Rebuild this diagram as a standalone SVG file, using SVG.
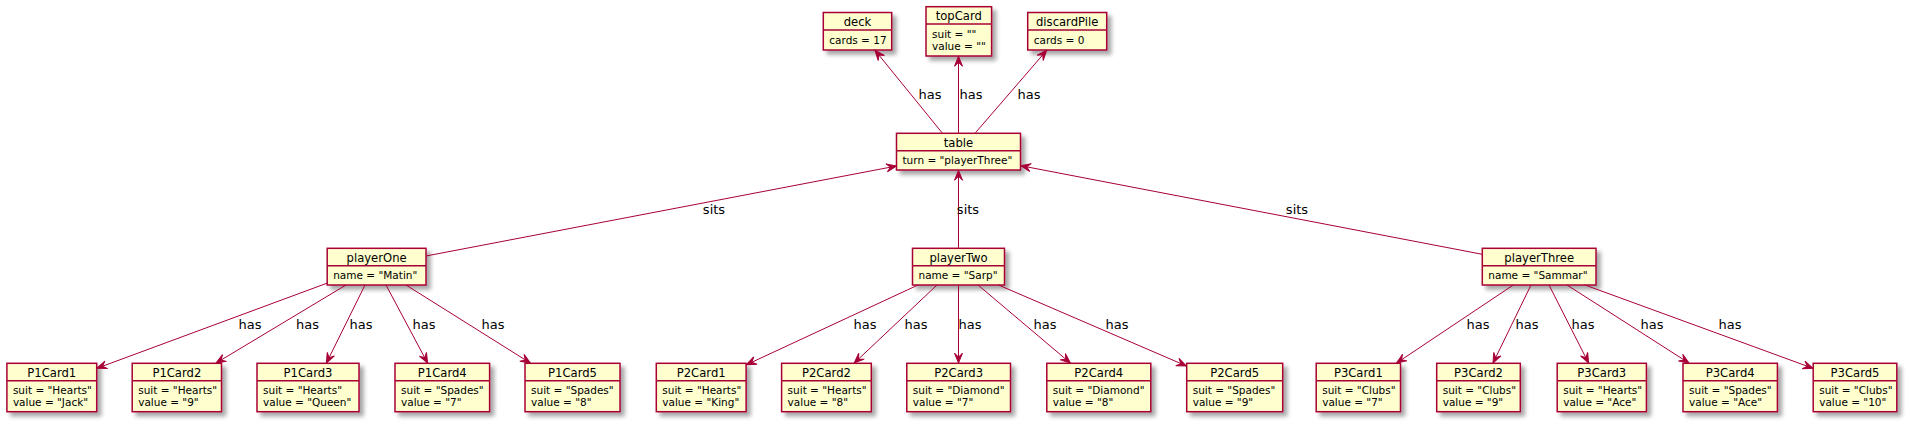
<svg xmlns="http://www.w3.org/2000/svg" width="1910" height="425" viewBox="0 0 1910 425">
<style>
.box{fill:#FEFECE;stroke:#A80036;stroke-width:1.5;filter:url(#sh)}
.sep{stroke:#A80036;stroke-width:1.5}
.nm{font-family:"DejaVu Sans",sans-serif;font-size:11.6px;text-anchor:middle;fill:#000}
.at{font-family:"DejaVu Sans",sans-serif;font-size:10.5px;fill:#000}
.lb{font-family:"DejaVu Sans",sans-serif;font-size:13px;text-anchor:middle;fill:#000}
.ln{stroke:#A80036;stroke-width:1;fill:none;marker-end:url(#ar)}
</style>
<defs>
<filter id="sh" x="-10%" y="-10%" width="130%" height="150%">
<feGaussianBlur in="SourceAlpha" stdDeviation="2" result="b"/>
<feOffset in="b" dx="4" dy="4" result="o"/>
<feComponentTransfer in="o" result="o2"><feFuncA type="linear" slope="0.35"/></feComponentTransfer>
<feMerge><feMergeNode in="o2"/><feMergeNode in="SourceGraphic"/></feMerge>
</filter>
<marker id="ar" viewBox="-11 -5 12 10" refX="0" refY="0" markerWidth="12" markerHeight="10" markerUnits="userSpaceOnUse" orient="auto">
<path d="M0,0 L-10,-4 L-6,0 L-10,4 Z" fill="#A80036" stroke="#A80036" stroke-width="1"/>
</marker>
</defs>
<rect width="1910" height="425" fill="#FFFFFF"/>

<g id="deck"><rect class="box" x="823.3" y="12.5" width="68.4" height="37.5"/><line class="sep" x1="823.3" y1="29.9" x2="891.7" y2="29.9"/><text class="nm" x="857.5" y="25.7">deck</text><text class="at" x="829.3" y="43.5">cards = 17</text></g>
<g id="topCard"><rect class="box" x="926" y="6.7" width="65.6" height="49.3"/><line class="sep" x1="926" y1="24.1" x2="991.6" y2="24.1"/><text class="nm" x="958.8" y="19.9">topCard</text><text class="at" x="932" y="37.7">suit = ""</text><text class="at" x="932" y="49.7">value = ""</text></g>
<g id="discardPile"><rect class="box" x="1027.7" y="12.5" width="79" height="37.5"/><line class="sep" x1="1027.7" y1="29.9" x2="1106.7" y2="29.9"/><text class="nm" x="1067.2" y="25.7">discardPile</text><text class="at" x="1033.7" y="43.5">cards = 0</text></g>
<g id="table"><rect class="box" x="896.5" y="133.3" width="124" height="36.7"/><line class="sep" x1="896.5" y1="150.7" x2="1020.5" y2="150.7"/><text class="nm" x="958.5" y="146.5">table</text><text class="at" x="902.5" y="164.3">turn = "playerThree"</text></g>
<g id="playerOne"><rect class="box" x="327.2" y="248.3" width="98.8" height="36.7"/><line class="sep" x1="327.2" y1="265.7" x2="426" y2="265.7"/><text class="nm" x="376.6" y="261.5">playerOne</text><text class="at" x="333.2" y="279.3">name = "Matin"</text></g>
<g id="playerTwo"><rect class="box" x="912.5" y="248.3" width="92" height="36.7"/><line class="sep" x1="912.5" y1="265.7" x2="1004.5" y2="265.7"/><text class="nm" x="958.5" y="261.5">playerTwo</text><text class="at" x="918.5" y="279.3">name = "Sarp"</text></g>
<g id="playerThree"><rect class="box" x="1482.3" y="248.3" width="113.7" height="36.7"/><line class="sep" x1="1482.3" y1="265.7" x2="1596" y2="265.7"/><text class="nm" x="1539.2" y="261.5">playerThree</text><text class="at" x="1488.3" y="279.3">name = "Sammar"</text></g>

<g id="P1Card1"><rect class="box" x="6.9" y="363.3" width="89.8" height="48.4"/><line class="sep" x1="6.9" y1="380.7" x2="96.7" y2="380.7"/><text class="nm" x="51.8" y="376.5">P1Card1</text><text class="at" x="12.9" y="394.3">suit = "Hearts"</text><text class="at" x="12.9" y="406.3">value = "Jack"</text></g>
<g id="P1Card2"><rect class="box" x="132.2" y="363.3" width="89.3" height="48.4"/><line class="sep" x1="132.2" y1="380.7" x2="221.5" y2="380.7"/><text class="nm" x="176.85" y="376.5">P1Card2</text><text class="at" x="138.2" y="394.3">suit = "Hearts"</text><text class="at" x="138.2" y="406.3">value = "9"</text></g>
<g id="P1Card3"><rect class="box" x="257" y="363.3" width="102" height="48.4"/><line class="sep" x1="257" y1="380.7" x2="359" y2="380.7"/><text class="nm" x="308" y="376.5">P1Card3</text><text class="at" x="263" y="394.3">suit = "Hearts"</text><text class="at" x="263" y="406.3">value = "Queen"</text></g>
<g id="P1Card4"><rect class="box" x="395" y="363.3" width="94.6" height="48.4"/><line class="sep" x1="395" y1="380.7" x2="489.6" y2="380.7"/><text class="nm" x="442.3" y="376.5">P1Card4</text><text class="at" x="401" y="394.3">suit = "Spades"</text><text class="at" x="401" y="406.3">value = "7"</text></g>
<g id="P1Card5"><rect class="box" x="525" y="363.3" width="95" height="48.4"/><line class="sep" x1="525" y1="380.7" x2="620" y2="380.7"/><text class="nm" x="572.5" y="376.5">P1Card5</text><text class="at" x="531" y="394.3">suit = "Spades"</text><text class="at" x="531" y="406.3">value = "8"</text></g>

<g id="P2Card1"><rect class="box" x="656.3" y="363.3" width="89.8" height="48.4"/><line class="sep" x1="656.3" y1="380.7" x2="746.1" y2="380.7"/><text class="nm" x="701.2" y="376.5">P2Card1</text><text class="at" x="662.3" y="394.3">suit = "Hearts"</text><text class="at" x="662.3" y="406.3">value = "King"</text></g>
<g id="P2Card2"><rect class="box" x="781.6" y="363.3" width="89.7" height="48.4"/><line class="sep" x1="781.6" y1="380.7" x2="871.3" y2="380.7"/><text class="nm" x="826.45" y="376.5">P2Card2</text><text class="at" x="787.6" y="394.3">suit = "Hearts"</text><text class="at" x="787.6" y="406.3">value = "8"</text></g>
<g id="P2Card3"><rect class="box" x="906.8" y="363.3" width="103.7" height="48.4"/><line class="sep" x1="906.8" y1="380.7" x2="1010.5" y2="380.7"/><text class="nm" x="958.65" y="376.5">P2Card3</text><text class="at" x="912.8" y="394.3">suit = "Diamond"</text><text class="at" x="912.8" y="406.3">value = "7"</text></g>
<g id="P2Card4"><rect class="box" x="1046.8" y="363.3" width="104" height="48.4"/><line class="sep" x1="1046.8" y1="380.7" x2="1150.8" y2="380.7"/><text class="nm" x="1098.8" y="376.5">P2Card4</text><text class="at" x="1052.8" y="394.3">suit = "Diamond"</text><text class="at" x="1052.8" y="406.3">value = "8"</text></g>
<g id="P2Card5"><rect class="box" x="1186.7" y="363.3" width="96" height="48.4"/><line class="sep" x1="1186.7" y1="380.7" x2="1282.7" y2="380.7"/><text class="nm" x="1234.7" y="376.5">P2Card5</text><text class="at" x="1192.7" y="394.3">suit = "Spades"</text><text class="at" x="1192.7" y="406.3">value = "9"</text></g>

<g id="P3Card1"><rect class="box" x="1316.2" y="363.3" width="84.3" height="48.4"/><line class="sep" x1="1316.2" y1="380.7" x2="1400.5" y2="380.7"/><text class="nm" x="1358.35" y="376.5">P3Card1</text><text class="at" x="1322.2" y="394.3">suit = "Clubs"</text><text class="at" x="1322.2" y="406.3">value = "7"</text></g>
<g id="P3Card2"><rect class="box" x="1436.7" y="363.3" width="83.6" height="48.4"/><line class="sep" x1="1436.7" y1="380.7" x2="1520.3" y2="380.7"/><text class="nm" x="1478.5" y="376.5">P3Card2</text><text class="at" x="1442.7" y="394.3">suit = "Clubs"</text><text class="at" x="1442.7" y="406.3">value = "9"</text></g>
<g id="P3Card3"><rect class="box" x="1557.2" y="363.3" width="89.2" height="48.4"/><line class="sep" x1="1557.2" y1="380.7" x2="1646.4" y2="380.7"/><text class="nm" x="1601.8" y="376.5">P3Card3</text><text class="at" x="1563.2" y="394.3">suit = "Hearts"</text><text class="at" x="1563.2" y="406.3">value = "Ace"</text></g>
<g id="P3Card4"><rect class="box" x="1683" y="363.3" width="94.4" height="48.4"/><line class="sep" x1="1683" y1="380.7" x2="1777.4" y2="380.7"/><text class="nm" x="1730.2" y="376.5">P3Card4</text><text class="at" x="1689" y="394.3">suit = "Spades"</text><text class="at" x="1689" y="406.3">value = "Ace"</text></g>
<g id="P3Card5"><rect class="box" x="1813.2" y="363.3" width="83.6" height="48.4"/><line class="sep" x1="1813.2" y1="380.7" x2="1896.8" y2="380.7"/><text class="nm" x="1855" y="376.5">P3Card5</text><text class="at" x="1819.2" y="394.3">suit = "Clubs"</text><text class="at" x="1819.2" y="406.3">value = "10"</text></g>

<g id="connectors">
<path class="ln" d="M942.5,133.3 L875,50.3"/>
<path class="ln" d="M958.5,133.3 L958.5,56.3"/>
<path class="ln" d="M975,133.3 L1046.7,50.3"/>
<path class="ln" d="M426,256 L896.5,166"/>
<path class="ln" d="M958.5,248.3 L958.5,170.3"/>
<path class="ln" d="M1482.3,254.3 L1020.7,165.7"/>
<path class="ln" d="M327.5,283 L96.9,368.3"/>
<path class="ln" d="M346,285 L216,363.1"/>
<path class="ln" d="M365,285 L326.4,363.1"/>
<path class="ln" d="M386,285 L427.6,363.1"/>
<path class="ln" d="M406,285 L530.4,363.1"/>
<path class="ln" d="M918,285 L746.3,364.8"/>
<path class="ln" d="M937,285 L854.2,363.1"/>
<path class="ln" d="M958.5,285 L958.5,363.1"/>
<path class="ln" d="M978,285 L1070.4,363.1"/>
<path class="ln" d="M998.5,285 L1186.5,366"/>
<path class="ln" d="M1513.3,285 L1396.5,363.1"/>
<path class="ln" d="M1531,285 L1493,363.1"/>
<path class="ln" d="M1549,285 L1588.6,363.1"/>
<path class="ln" d="M1567,285 L1689,363.1"/>
<path class="ln" d="M1585,285 L1813,368.3"/>
<text class="lb" x="930" y="99.4">has</text>
<text class="lb" x="971" y="99.4">has</text>
<text class="lb" x="1029" y="99.4">has</text>
<text class="lb" x="714" y="214.3">sits</text>
<text class="lb" x="968" y="214.3">sits</text>
<text class="lb" x="1297" y="214.3">sits</text>
<text class="lb" x="250" y="329">has</text>
<text class="lb" x="307.5" y="329">has</text>
<text class="lb" x="361" y="329">has</text>
<text class="lb" x="424" y="329">has</text>
<text class="lb" x="493" y="329">has</text>
<text class="lb" x="865" y="329">has</text>
<text class="lb" x="916" y="329">has</text>
<text class="lb" x="970" y="329">has</text>
<text class="lb" x="1045" y="329">has</text>
<text class="lb" x="1117" y="329">has</text>
<text class="lb" x="1478" y="329">has</text>
<text class="lb" x="1527" y="329">has</text>
<text class="lb" x="1583" y="329">has</text>
<text class="lb" x="1652" y="329">has</text>
<text class="lb" x="1730" y="329">has</text>
</g>
</svg>
